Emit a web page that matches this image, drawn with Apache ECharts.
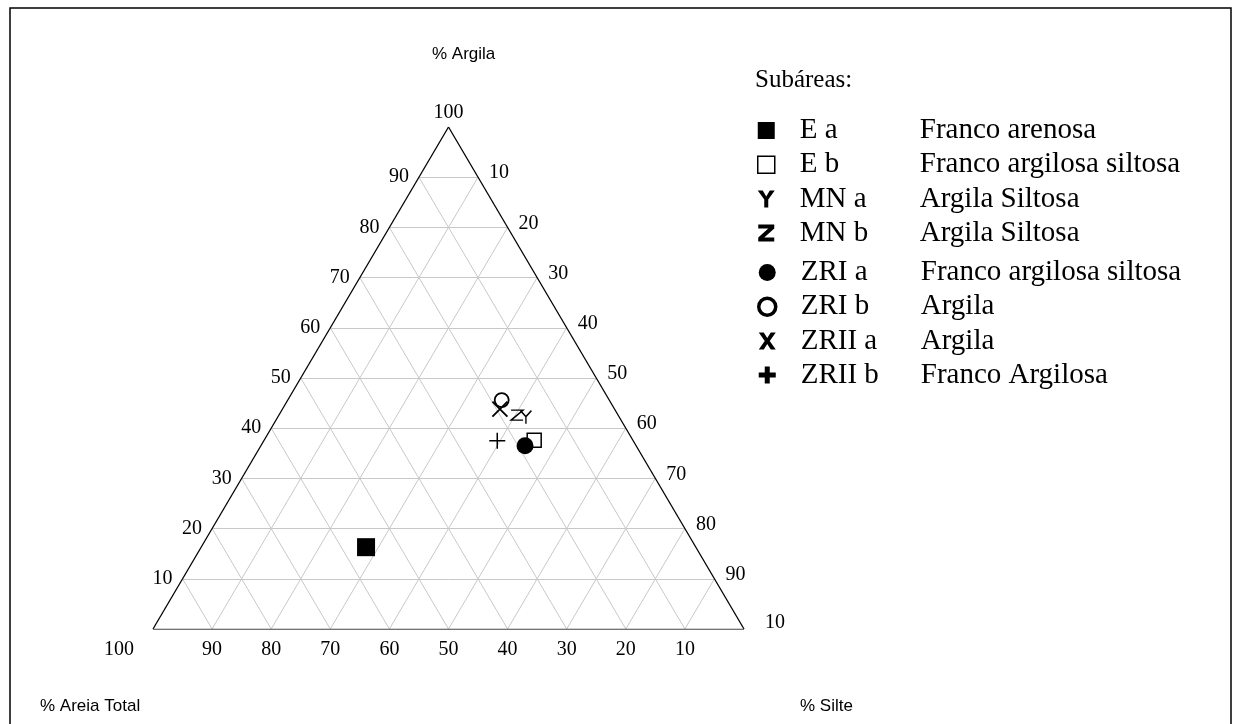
<!DOCTYPE html>
<html>
<head>
<meta charset="utf-8">
<script src="https://cdn.jsdelivr.net/npm/echarts@6/dist/echarts.min.js"></script>
<style>
  html, body { margin: 0; padding: 0; background: #fff; }
  #chart { width: 1235px; height: 724px; }
</style>
</head>
<body>
<div id="chart"></div>
<script>
// subáreas e classes texturais
var subareas = ['E a', 'E b', 'MN a', 'MN b', 'ZRI a', 'ZRI b', 'ZRII a', 'ZRII b'];
var classes = ['Franco arenosa', 'Franco argilosa siltosa', 'Argila Siltosa', 'Argila Siltosa',
               'Franco argilosa siltosa', 'Argila', 'Argila', 'Franco Argilosa'];
// composição granulométrica (%)
var argila = [16.3, 37.6, 42.2, 42.6, 36.5, 45.6, 43.8, 37.5];
var silte  = [27.9, 45.7, 42.0, 40.3, 44.7, 36.2, 36.8, 39.5];
var areia  = [55.8, 16.7, 15.8, 17.1, 18.8, 18.2, 19.4, 23.0];

// linhas de grade e rótulos
var ticks = [10, 20, 30, 40, 50, 60, 70, 80, 90];
var argilaLabels = [10, 20, 30, 40, 50, 60, 70, 80, 90];
var silteLabels = [10, 20, 30, 40, 50, 60, 70, 80, 90];
var areiaLabels = [90, 80, 70, 60, 50, 40, 30, 20, 10];

// ternario -> plano (x = silte + argila/2, y = argila)
function toXY(cl, si) {
  return [si + cl / 2, cl];
}

var chart = echarts.init(document.getElementById('chart'));

var gridLines = [];
ticks.forEach(function (t) {
  // argila constante
  gridLines.push({ coords: [[t / 2, t], [100 - t / 2, t]] });
  // silte constante
  gridLines.push({ coords: [[t, 0], [t + (100 - t) / 2, 100 - t]] });
  // areia constante
  gridLines.push({ coords: [[100 - t, 0], [(100 - t) / 2, 100 - t]] });
});

var labelFont = { fontFamily: 'Liberation Serif', fontSize: 20, color: '#000' };

function labelSeries(data, label) {
  return {
    type: 'scatter',
    symbolSize: 0,
    silent: true,
    data: data,
    itemStyle: { opacity: 1 },
    label: Object.assign({ show: true, formatter: function (p) { return p.value[2]; } }, labelFont, label),
    z: 5
  };
}

// símbolos
var symX = 'path://M0,0 L14,14 M14,0 L0,14';
var symPlus = 'path://M7,0 L7,14 M0,7 L14,7';
var symY = 'path://M0,0 L5.5,6 L11,0 M5.5,6 L5.5,13';
var symZ = 'path://M0,0 L12,0 L0,10 L12,10';
var boldY = 'path://M0,0 L5,0 L8.5,6 L12,0 L17,0 L10.5,9 L10.5,17 L6.5,17 L6.5,9 Z';
var boldZ = 'path://M0,0 L16,0 L16,4 L6,13 L16,13 L16,17 L0,17 L0,13 L10,4 L0,4 Z';
var boldX = 'path://M0,0 L5,0 L8.5,5.5 L12,0 L17,0 L11,8.5 L17,17 L12,17 L8.5,11.5 L5,17 L0,17 L6,8.5 Z';
var boldPlus = 'path://M6,0 L11,0 L11,6 L17,6 L17,11 L11,11 L11,17 L6,17 L6,11 L0,11 L0,6 L6,6 Z';

var markStyles = [
  { symbol: 'rect', symbolSize: 18, itemStyle: { color: '#000', opacity: 1 } },
  { symbol: 'rect', symbolSize: 14, itemStyle: { color: '#fff', borderColor: '#000', borderWidth: 1.5, opacity: 1 } },
  { symbol: symY, symbolSize: [11, 13], itemStyle: { color: 'rgba(0,0,0,0)', borderColor: '#000', borderWidth: 1.5, opacity: 1 } },
  { symbol: symZ, symbolSize: [12, 10], itemStyle: { color: 'rgba(0,0,0,0)', borderColor: '#000', borderWidth: 1.5, opacity: 1 } },
  { symbol: 'circle', symbolSize: 17, itemStyle: { color: '#000', opacity: 1 } },
  { symbol: 'circle', symbolSize: 14, itemStyle: { color: 'rgba(0,0,0,0)', borderColor: '#000', borderWidth: 1.8, opacity: 1 } },
  { symbol: symX, symbolSize: 15, itemStyle: { color: 'rgba(0,0,0,0)', borderColor: '#000', borderWidth: 1.8, opacity: 1 } },
  { symbol: symPlus, symbolSize: 16, itemStyle: { color: 'rgba(0,0,0,0)', borderColor: '#000', borderWidth: 1.5, opacity: 1 } }
];

var legendIcons = [
  { icon: 'rect', itemStyle: { color: '#000', borderWidth: 0, opacity: 1 } },
  { icon: 'rect', itemStyle: { color: '#fff', borderColor: '#000', borderWidth: 1.5, opacity: 1 } },
  { icon: boldY, itemStyle: { color: '#000', borderWidth: 0, opacity: 1 } },
  { icon: boldZ, itemStyle: { color: '#000', borderWidth: 0, opacity: 1 } },
  { icon: 'circle', itemStyle: { color: '#000', borderWidth: 0, opacity: 1 } },
  { icon: 'circle', itemStyle: { color: '#fff', borderColor: '#000', borderWidth: 3.5, opacity: 1 } },
  { icon: boldX, itemStyle: { color: '#000', borderWidth: 0, opacity: 1 } },
  { icon: boldPlus, itemStyle: { color: '#000', borderWidth: 0, opacity: 1 } }
];

var pointSeries = subareas.map(function (name, i) {
  return Object.assign({
    name: name,
    type: 'scatter',
    data: [toXY(argila[i], silte[i])],
    z: 10
  }, markStyles[i]);
});

function legendData(from, to) {
  var out = [];
  for (var i = from; i < to; i++) {
    out.push(Object.assign({ name: subareas[i] }, legendIcons[i]));
  }
  return out;
}

var legendBase = {
  orient: 'vertical',
  left: 752,
  itemWidth: 17,
  itemHeight: 17,
  itemGap: 5.2,
  selectedMode: false,
  formatter: function (name) {
    return '{a|' + name + '}{b|' + classes[subareas.indexOf(name)] + '}';
  },
  textStyle: {
    rich: {
      a: { fontFamily: 'Liberation Serif', fontSize: 29, lineHeight: 28, color: '#000', width: 120, padding: [0, 0, 0, 20] },
      b: { fontFamily: 'Liberation Serif', fontSize: 29, lineHeight: 28, color: '#000' }
    }
  }
};

var sansTitle = { fontFamily: 'Liberation Sans', fontSize: 17, fill: '#000' };

var option = {
  animation: false,
  backgroundColor: '#fff',
  grid: { left: 153, top: 127, width: 591, height: 502 },
  xAxis: { type: 'value', min: 0, max: 100, show: false },
  yAxis: { type: 'value', min: 0, max: 100, show: false },
  legend: [
    Object.assign({ top: 111, data: legendData(0, 4) }, legendBase),
    Object.assign({ top: 253, data: legendData(4, 8) }, legendBase)
  ],
  graphic: [
    { type: 'rect', shape: { x: 10, y: 8, width: 1221, height: 730 }, style: { fill: 'none', stroke: '#000', lineWidth: 1.5 }, z: -1 },
    { type: 'text', left: 755, top: 68, style: { text: 'Subáreas:', fontFamily: 'Liberation Serif', fontSize: 25, fill: '#000' } },
    { type: 'text', left: 432, top: 46, style: Object.assign({ text: '% Argila' }, sansTitle) },
    { type: 'text', left: 40, top: 698, style: Object.assign({ text: '% Areia Total' }, sansTitle) },
    { type: 'text', left: 800, top: 698, style: Object.assign({ text: '% Silte' }, sansTitle) }
  ],
  series: [
    {
      type: 'lines',
      coordinateSystem: 'cartesian2d',
      silent: true,
      data: gridLines,
      lineStyle: { color: '#c8c8c8', width: 1, opacity: 1 },
      z: 1
    },
    {
      type: 'lines',
      coordinateSystem: 'cartesian2d',
      silent: true,
      data: [
        { coords: [[0, 0], [50, 100]] },
        { coords: [[50, 100], [100, 0]] },
        { coords: [[0, 0], [100, 0]], lineStyle: { color: '#444' } }
      ],
      lineStyle: { color: '#000', width: 1.3, opacity: 1 },
      z: 2
    },
    // argila (lado esquerdo)
    labelSeries(argilaLabels.map(function (c) { return [c / 2, c, c]; }), { position: 'left', distance: 10 }),
    labelSeries([[50, 100, 100]], { position: 'top', distance: 4 }),
    // silte (lado direito)
    labelSeries(silteLabels.map(function (s) { return [s + (100 - s) / 2, 100 - s, s]; }), { position: 'right', distance: 11, offset: [0, -4] }),
    labelSeries([[100, 0, 10]], { position: 'right', distance: 21, offset: [0, -6] }),
    // areia (base)
    labelSeries(areiaLabels.map(function (a) { return [100 - a, 0, a]; }), { position: 'bottom', distance: 11 }),
    labelSeries([[0, 0, 100]], { position: 'bottom', distance: 11, offset: [-34, 0] })
  ].concat(pointSeries)
};

chart.setOption(option);
</script>
</body>
</html>
